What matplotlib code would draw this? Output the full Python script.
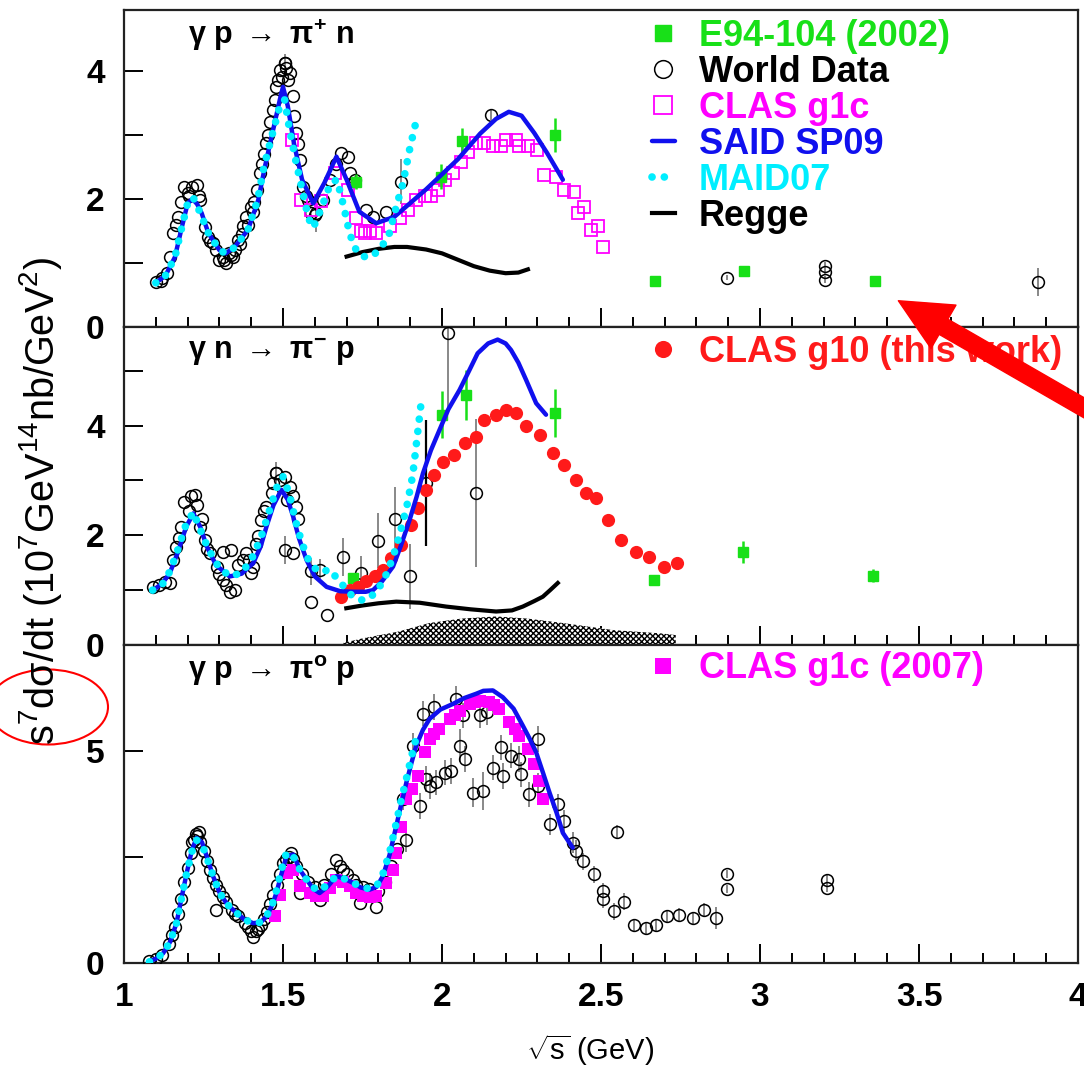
import matplotlib.pyplot as plt
from matplotlib.patches import Ellipse, ConnectionPatch
from matplotlib.ticker import MultipleLocator

plt.rcParams['font.family'] = ['Liberation Sans', 'DejaVu Sans']
plt.rcParams['mathtext.fontset'] = 'custom'
plt.rcParams['mathtext.rm'] = 'Liberation Sans'
plt.rcParams['mathtext.it'] = 'Liberation Sans:italic'
plt.rcParams['mathtext.bf'] = 'Liberation Sans:bold'
plt.rcParams['mathtext.default'] = 'regular'
plt.rcParams['hatch.linewidth'] = 1.0

GREEN = '#18e018'
MAGENTA = '#ff00ff'
BLUE = '#1010ee'
CYAN = '#00eeff'
RED = '#ff1a1a'

# ---------------- gamma p -> pi+ n ----------------
said_top_x = [1.10, 1.13, 1.16, 1.18, 1.20, 1.215, 1.23, 1.244, 1.265, 1.30, 1.32, 1.348, 1.39,
              1.422, 1.443, 1.469, 1.49, 1.50, 1.515, 1.535, 1.56, 1.595, 1.63, 1.668, 1.70,
              1.74, 1.793, 1.85, 1.95, 2.05, 2.12, 2.17, 2.21, 2.25, 2.29, 2.33, 2.38]
said_top_y = [0.69, 0.80, 1.09, 1.52, 1.93, 2.00, 1.92, 1.78, 1.47, 1.20, 1.15, 1.25, 1.52,
              1.98, 2.50, 3.08, 3.55, 3.75, 3.45, 2.85, 2.30, 1.93, 2.25, 2.66, 2.30,
              1.80, 1.62, 1.72, 2.15, 2.62, 3.02, 3.25, 3.36, 3.30, 3.03, 2.72, 2.30]

maid_top_x = [1.10, 1.13, 1.16, 1.18, 1.20, 1.217, 1.24, 1.265, 1.30, 1.32, 1.35, 1.39, 1.42,
              1.44, 1.47, 1.49, 1.505, 1.52, 1.54, 1.56, 1.58, 1.595, 1.62, 1.65, 1.67, 1.69,
              1.71, 1.73, 1.75, 1.78, 1.81, 1.835, 1.856, 1.877, 1.898, 1.923]
maid_top_y = [0.69, 0.80, 1.09, 1.52, 1.93, 2.03, 1.78, 1.47, 1.20, 1.15, 1.25, 1.52, 1.98,
              2.50, 3.08, 3.45, 3.55, 3.10, 2.60, 2.15, 1.70, 1.55, 1.85, 2.25, 2.30, 1.90,
              1.45, 1.20, 1.10, 1.10, 1.25, 1.47, 1.88, 2.24, 2.77, 3.31]

regge_top_x = [1.70, 1.75, 1.80, 1.85, 1.89, 1.95, 2.00, 2.05, 2.10, 2.15, 2.20, 2.24, 2.27]
regge_top_y = [1.10, 1.17, 1.22, 1.25, 1.25, 1.21, 1.15, 1.05, 0.95, 0.88, 0.84, 0.85, 0.90]

world_top_x = [1.10, 1.12, 1.134, 1.145, 1.155, 1.165, 1.17, 1.18, 1.19, 1.20, 1.213, 1.228,
               1.24, 1.254, 1.265, 1.28, 1.29, 1.30, 1.31, 1.322, 1.33, 1.343, 1.35, 1.359,
               1.365, 1.375, 1.385, 1.39, 1.40, 1.41, 1.417, 1.427, 1.435, 1.448, 1.453, 1.46,
               1.469, 1.479, 1.485, 1.49, 1.497, 1.505, 1.51, 1.521, 1.532, 1.536, 1.542,
               1.553, 1.563, 1.579, 1.589, 1.626, 1.647, 1.668, 1.683, 1.704, 1.71, 1.725,
               1.762, 1.783, 1.825, 1.115, 1.205, 1.235, 1.27, 1.315, 1.338, 1.37, 1.405,
               1.44, 1.475, 1.515, 1.547, 1.572, 1.60]
world_top_y = [0.70, 0.76, 0.84, 1.10, 1.47, 1.60, 1.72, 1.95, 2.19, 2.10, 2.19, 2.22,
               1.98, 1.56, 1.41, 1.31, 1.20, 1.05, 1.10, 1.00, 1.15, 1.10, 1.20, 1.36,
               1.30, 1.57, 1.72, 1.60, 1.88, 1.95, 2.14, 2.40, 2.55, 2.87, 3.00, 3.20,
               3.39, 3.75, 3.85, 4.02, 3.90, 4.12, 4.05, 3.96, 3.60, 3.30, 3.03,
               2.61, 2.19, 1.98, 1.78, 1.98, 2.30, 2.55, 2.71, 2.66, 2.40, 2.30,
               1.83, 1.72, 1.80, 0.72, 2.05, 2.05, 1.35, 1.05, 1.12, 1.45, 1.80,
               2.70, 3.55, 3.85, 2.85, 2.05, 1.75]
# sparse world points with visible error bars
world_top_ex = [1.505, 1.605, 1.872, 2.155, 2.896, 3.205, 3.205, 3.205, 3.874]
world_top_ey = [4.12, 1.78, 2.27, 3.31, 0.77, 0.74, 0.86, 0.96, 0.70]
world_top_ee = [0.15, 0.30, 0.35, 0.08, 0.04, 0.05, 0.05, 0.05, 0.22]

g1c_top_x = [1.527, 1.558, 1.589, 1.621, 1.662, 1.704, 1.730, 1.745, 1.757, 1.775, 1.793, 1.835,
             1.867, 1.893, 1.919, 1.945, 1.966, 1.987, 2.008, 2.034, 2.060, 2.081, 2.107,
             2.133, 2.160, 2.186, 2.201, 2.233, 2.243, 2.270, 2.300, 2.322, 2.358, 2.385,
             2.416, 2.427, 2.448, 2.468, 2.489, 2.505]
g1c_top_y = [2.92, 1.98, 1.83, 1.96, 2.40, 2.14, 1.70, 1.50, 1.47, 1.50, 1.47, 1.57,
             1.70, 1.83, 1.98, 2.04, 2.04, 2.14, 2.30, 2.40, 2.58, 2.74, 2.87,
             2.87, 2.82, 2.82, 2.92, 2.92, 2.82, 2.82, 2.77, 2.38, 2.35, 2.14,
             2.11, 1.78, 1.88, 1.52, 1.57, 1.25]

e94_top_x = [1.730, 1.998, 2.063, 2.355, 2.669, 2.949, 3.363]
e94_top_y = [2.27, 2.35, 2.90, 3.00, 0.72, 0.875, 0.72]
e94_top_e = [0.12, 0.20, 0.21, 0.26, 0.03, 0.04, 0.03]

# ---------------- gamma n -> pi- p ----------------
said_mid_x = [1.092, 1.12, 1.144, 1.17, 1.195, 1.218, 1.24, 1.26, 1.29, 1.333, 1.37, 1.406,
              1.43, 1.448, 1.47, 1.495, 1.515, 1.532, 1.55, 1.574, 1.60, 1.637, 1.68, 1.72,
              1.76, 1.783, 1.81, 1.846, 1.87, 1.898, 1.92, 1.94, 1.965, 1.992, 2.02, 2.055,
              2.085, 2.112, 2.145, 2.175, 2.20, 2.217, 2.24, 2.264, 2.296, 2.327]
said_mid_y = [1.00, 1.12, 1.31, 1.70, 2.15, 2.40, 2.15, 1.80, 1.45, 1.25, 1.30, 1.49,
              1.80, 2.16, 2.55, 2.83, 2.65, 2.34, 1.95, 1.55, 1.25, 1.06, 0.98, 0.97,
              0.97, 1.00, 1.15, 1.43, 1.80, 2.28, 2.70, 3.13, 3.55, 3.92, 4.30, 4.65,
              5.00, 5.32, 5.50, 5.57, 5.50, 5.38, 5.15, 4.84, 4.41, 4.20]

maid_mid_x = [1.09, 1.12, 1.145, 1.17, 1.195, 1.218, 1.24, 1.265, 1.30, 1.335, 1.37, 1.40,
              1.43, 1.46, 1.485, 1.50, 1.52, 1.54, 1.56, 1.58, 1.60, 1.62, 1.645, 1.68,
              1.70, 1.72, 1.745, 1.765, 1.79, 1.81, 1.83, 1.856, 1.875, 1.89, 1.908, 1.92, 1.935]
maid_mid_y = [1.00, 1.10, 1.35, 1.75, 2.20, 2.42, 2.10, 1.75, 1.40, 1.25, 1.32, 1.55,
              1.95, 2.50, 2.95, 3.07, 2.75, 2.25, 1.85, 1.55, 1.40, 1.32, 1.38, 1.15,
              1.00, 0.88, 0.82, 0.83, 0.95, 1.12, 1.35, 1.79, 2.20, 2.55, 3.10, 3.70, 4.45]

regge_mid_x = [1.699, 1.75, 1.80, 1.856, 1.93, 2.013, 2.09, 2.17, 2.22, 2.254, 2.29, 2.317,
               2.34, 2.364]
regge_mid_y = [0.67, 0.72, 0.76, 0.79, 0.77, 0.70, 0.65, 0.61, 0.63, 0.70, 0.80, 0.88,
               1.00, 1.13]

band_mid_x = [1.69, 1.75, 1.86, 1.96, 2.06, 2.17, 2.27, 2.38, 2.54, 2.69, 2.735]
band_mid_y = [0.04, 0.12, 0.24, 0.40, 0.48, 0.52, 0.48, 0.40, 0.27, 0.21, 0.18]

g10_x = [1.683, 1.71, 1.736, 1.762, 1.788, 1.814, 1.841, 1.872, 1.903, 1.924, 1.95, 1.976,
         2.003, 2.039, 2.071, 2.107, 2.133, 2.17, 2.201, 2.233, 2.264, 2.307, 2.35, 2.385,
         2.421, 2.453, 2.484, 2.521, 2.562, 2.61, 2.651, 2.699, 2.74]
g10_y = [0.88, 1.00, 1.06, 1.16, 1.25, 1.37, 1.58, 1.82, 2.19, 2.49, 2.83, 3.10,
         3.34, 3.47, 3.68, 3.80, 4.11, 4.20, 4.29, 4.23, 4.00, 3.83, 3.51, 3.28,
         3.01, 2.78, 2.68, 2.28, 1.92, 1.70, 1.61, 1.43, 1.49]

world_mid_x = [1.092, 1.11, 1.144, 1.155, 1.165, 1.18, 1.19, 1.212, 1.223, 1.228, 1.238,
               1.254, 1.27, 1.291, 1.312, 1.333, 1.348, 1.338, 1.312, 1.375, 1.385, 1.40,
               1.406, 1.422, 1.432, 1.448, 1.464, 1.479, 1.49, 1.505, 1.521, 1.532, 1.542,
               1.547, 1.532, 1.589, 1.637, 1.13, 1.172, 1.205, 1.245, 1.262, 1.30, 1.322,
               1.36, 1.392, 1.415, 1.44, 1.47, 1.512]
world_mid_y = [1.06, 1.10, 1.13, 1.55, 1.79, 2.16, 2.61, 2.71, 2.74, 2.55, 2.16,
               1.92, 1.67, 1.43, 1.19, 0.97, 1.00, 1.73, 1.70, 1.55, 1.67, 1.31,
               1.43, 1.98, 2.28, 2.52, 2.77, 3.13, 3.00, 3.07, 2.89, 2.71, 2.52,
               2.30, 1.67, 0.79, 0.55, 1.15, 1.95, 2.45, 2.30, 1.75, 1.30, 1.10,
               1.45, 1.55, 1.85, 2.45, 2.95, 2.65]
world_mid_ex = [1.479, 1.505, 1.589, 1.615, 1.69, 1.746, 1.799, 1.851, 1.898, 2.018, 2.107]
world_mid_ey = [3.13, 1.73, 1.34, 1.37, 1.60, 1.32, 1.90, 2.29, 1.25, 5.69, 2.77]
world_mid_ee = [0.20, 0.25, 0.25, 0.20, 0.35, 0.30, 0.50, 0.60, 0.60, 1.40, 1.35]
# the one point drawn with a dark error bar
world_mid_bx = [1.95]
world_mid_by = [2.95]
world_mid_be = [1.15]

e94_mid_x = [1.72, 2.00, 2.076, 2.356, 2.667, 2.947, 3.355]
e94_mid_y = [1.22, 4.20, 4.56, 4.23, 1.19, 1.70, 1.26]
e94_mid_e = [0.08, 0.43, 0.45, 0.44, 0.05, 0.20, 0.12]

# ---------------- gamma p -> pi0 p ----------------
said_bot_x = [1.076, 1.10, 1.123, 1.145, 1.165, 1.18, 1.197, 1.213, 1.228, 1.245, 1.26, 1.28,
              1.301, 1.325, 1.354, 1.38, 1.406, 1.43, 1.448, 1.465, 1.479, 1.495, 1.511,
              1.532, 1.553, 1.574, 1.595, 1.615, 1.64, 1.668, 1.695, 1.72, 1.745, 1.772,
              1.795, 1.814, 1.835, 1.856, 1.872, 1.888, 1.905, 1.919, 1.94, 1.961, 1.995,
              2.034, 2.07, 2.107, 2.13, 2.16, 2.191, 2.225, 2.254, 2.275, 2.296, 2.317,
              2.338, 2.36, 2.38, 2.411]
said_bot_y = [0.03, 0.10, 0.23, 0.50, 0.94, 1.50, 2.12, 2.65, 2.95, 2.85, 2.52, 2.05,
              1.65, 1.38, 1.18, 1.02, 0.94, 0.96, 1.10, 1.35, 1.65, 2.10, 2.52,
              2.56, 2.20, 1.97, 1.75, 1.65, 1.80, 2.05, 1.98, 1.89, 1.78, 1.73,
              1.80, 2.05, 2.55, 3.23, 3.75, 4.26, 4.75, 5.13, 5.50, 5.76, 5.98,
              6.11, 6.25, 6.35, 6.42, 6.43, 6.27, 6.00, 5.60, 5.30, 4.97, 4.50,
              4.02, 3.55, 3.07, 2.72]

maid_bot_x = [1.08, 1.10, 1.123, 1.145, 1.165, 1.18, 1.197, 1.213, 1.228, 1.245, 1.26, 1.28,
              1.301, 1.325, 1.354, 1.38, 1.406, 1.43, 1.448, 1.465, 1.479, 1.495, 1.511,
              1.53, 1.553, 1.574, 1.595, 1.615, 1.64, 1.668, 1.695, 1.72, 1.745, 1.772,
              1.795, 1.814, 1.835, 1.856, 1.872, 1.888, 1.905, 1.925]
maid_bot_y = [0.03, 0.10, 0.23, 0.50, 0.94, 1.50, 2.12, 2.62, 2.90, 2.80, 2.50, 2.05,
              1.65, 1.38, 1.18, 1.02, 0.94, 0.96, 1.10, 1.35, 1.70, 2.20, 2.60,
              2.55, 2.20, 1.97, 1.78, 1.70, 1.85, 2.05, 1.98, 1.89, 1.80, 1.75,
              1.82, 2.10, 2.60, 3.30, 3.85, 4.35, 4.90, 5.50]

g1c07_x = [1.474, 1.49, 1.511, 1.53, 1.553, 1.584, 1.626, 1.668, 1.71, 1.751, 1.793, 1.825,
           1.845, 1.856, 1.872, 1.888, 1.905, 1.924, 1.945, 1.961, 1.992, 2.024, 2.055,
           2.087, 2.118, 2.149, 2.18, 2.212, 2.243, 2.27, 2.29, 2.317, 1.605, 1.647, 1.69,
           1.73, 1.772, 1.976, 2.04, 2.103, 2.165, 2.228, 2.305]
g1c07_y = [1.10, 1.60, 2.12, 2.20, 1.81, 1.65, 1.57, 1.97, 1.81, 1.57, 1.57, 1.89,
           2.20, 2.60, 3.20, 3.86, 4.10, 4.41, 4.97, 5.28, 5.52, 5.76, 5.95,
           6.11, 6.19, 6.15, 6.00, 5.68, 5.36, 5.05, 4.69, 3.86, 1.58, 1.78, 1.92,
           1.66, 1.55, 5.40, 5.86, 6.16, 6.09, 5.52, 4.30]

world_bot_x = [1.08, 1.10, 1.12, 1.14, 1.15, 1.16, 1.17, 1.18, 1.19, 1.20, 1.21, 1.22, 1.225,
               1.23, 1.24, 1.25, 1.26, 1.27, 1.28, 1.29, 1.29, 1.30, 1.32, 1.34, 1.36, 1.38,
               1.39, 1.40, 1.406, 1.42, 1.43, 1.44, 1.45, 1.46, 1.47, 1.48, 1.49, 1.50, 1.51,
               1.52, 1.53, 1.54, 1.553, 1.56, 1.58, 1.60, 1.615, 1.63, 1.65, 1.668, 1.68,
               1.70, 1.72, 1.741, 1.75, 1.77, 1.793, 1.80, 1.82, 1.84, 1.86, 1.215, 1.235,
               1.31, 1.35, 1.415, 1.525, 1.69, 1.73]
world_bot_y = [0.05, 0.10, 0.20, 0.45, 0.65, 0.85, 1.15, 1.50, 1.90, 2.25, 2.60, 2.90, 3.05,
               3.00, 2.85, 2.65, 2.40, 2.20, 2.00, 1.26, 1.85, 1.70, 1.45, 1.25, 1.10, 0.95,
               0.85, 0.75, 0.62, 0.80, 0.90, 1.05, 1.20, 1.40, 1.60, 1.85, 2.10, 2.35, 2.45,
               2.50, 2.45, 2.30, 1.65, 2.10, 1.90, 1.80, 1.49, 1.85, 2.10, 2.44, 2.30,
               2.10, 1.95, 1.41, 1.80, 1.75, 1.33, 1.70, 1.90, 2.30, 2.70, 2.85, 3.10,
               1.55, 1.15, 0.75, 2.60, 2.20, 1.85]
world_bot_ex = [1.877, 1.888, 1.908, 1.93, 1.94, 1.95, 1.961, 1.976, 1.982, 2.008, 2.029,
                2.045, 2.055, 2.065, 2.071, 2.097, 2.12, 2.128, 2.14, 2.16, 2.186, 2.191,
                2.217, 2.243, 2.248, 2.275, 2.301, 2.301, 2.338, 2.364, 2.385, 2.411, 2.42,
                2.442, 2.479, 2.505, 2.505, 2.542, 2.55, 2.573, 2.604, 2.641, 2.672, 2.709,
                2.746, 2.788, 2.824, 2.861, 2.895, 2.895, 3.21, 3.21]
world_bot_ey = [3.86, 2.91, 5.13, 3.70, 5.88, 4.34, 4.18, 6.04, 4.26, 4.49, 4.53,
                6.23, 5.13, 5.84, 4.81, 4.02, 5.84, 4.06, 5.92, 4.61, 5.09, 4.41,
                4.89, 4.81, 4.45, 3.98, 5.28, 4.18, 3.27, 3.74, 3.35, 2.84, 2.65,
                2.40, 2.09, 1.69, 1.50, 1.22, 3.10, 1.45, 0.90, 0.82, 0.90, 1.10,
                1.14, 1.06, 1.26, 1.06, 2.10, 1.75, 1.97, 1.78]
world_bot_ee = [0.25, 0.30, 0.30, 0.30, 0.30, 0.30, 0.30, 0.30, 0.30, 0.30, 0.30,
                0.30, 0.40, 0.30, 0.30, 0.35, 0.30, 0.45, 0.30, 0.30, 0.30, 0.30,
                0.30, 0.30, 0.30, 0.30, 0.30, 0.30, 0.25, 0.25, 0.25, 0.25, 0.25,
                0.20, 0.20, 0.20, 0.20, 0.20, 0.15, 0.20, 0.15, 0.15, 0.15, 0.15,
                0.15, 0.15, 0.15, 0.25, 0.10, 0.10, 0.10, 0.10]

x_ticks = [1, 1.5, 2, 2.5, 3, 3.5, 4]
x_ticklabels = ['1', '1.5', '2', '2.5', '3', '3.5', '4']


def style_axis(ax, ymax, yticks, ylabels, show_x):
    ax.set_xlim(1, 4)
    ax.set_ylim(0, ymax)
    ax.set_yticks(yticks, ylabels)
    ax.set_xticks(x_ticks, x_ticklabels if show_x else [])
    ax.xaxis.set_minor_locator(MultipleLocator(0.1))
    ax.tick_params(axis='both', which='major', direction='in', length=14, width=1.4,
                   labelsize=24, pad=14, top=False, right=False)
    ax.tick_params(axis='x', which='minor', direction='in', length=7, width=1.4,
                   top=False)
    for lab in ax.get_xticklabels() + ax.get_yticklabels():
        lab.set_fontweight('bold')
    for s in ax.spines.values():
        s.set_linewidth(1.6)
        s.set_color('#222222')


def plot_world(ax, x, y, ex, ey, ee):
    ax.vlines(ex, [a - b for a, b in zip(ey, ee)], [a + b for a, b in zip(ey, ee)],
              colors='#888888', linewidth=1.4, zorder=2)
    h, = ax.plot(list(x) + list(ex), list(y) + list(ey), 'o', mfc='none', mec='black',
                 ms=8.5, mew=1.1, zorder=3)
    return h


def plot_models(ax, sx, sy, mx, my):
    hs, = ax.plot(sx, sy, '-', color=BLUE, lw=3.2, zorder=6, solid_capstyle='round')
    hm, = ax.plot(mx, my, color=CYAN, lw=5.5, linestyle=(0, (0.01, 1.6)),
                  dash_capstyle='round', zorder=7)
    return hs, hm


def panel_title(ax, txt):
    ax.text(0.067, 0.92, txt, transform=ax.transAxes, fontsize=22, fontweight='bold',
            ha='left', va='center')


fig = plt.figure(figsize=(10.84, 10.76), dpi=100)
ax_top = fig.add_axes([0.1144, 0.6961, 0.8801, 0.2946])
ax_mid = fig.add_axes([0.1144, 0.4006, 0.8801, 0.2955])
ax_bot = fig.add_axes([0.1144, 0.1050, 0.8801, 0.2955])

legend_kw = dict(loc='upper left', frameon=False, prop={'weight': 'bold', 'size': 26},
                 handlelength=0.65, handletextpad=0.65, borderpad=0, borderaxespad=0)

# top panel
h_regge, = ax_top.plot(regge_top_x, regge_top_y, '-', color='black', lw=3, zorder=4)
h_world = plot_world(ax_top, world_top_x, world_top_y, world_top_ex, world_top_ey,
                     world_top_ee)
h_g1c, = ax_top.plot(g1c_top_x, g1c_top_y, 's', mfc='none', mec=MAGENTA, ms=9, mew=1.3,
                     zorder=4)
ax_top.vlines(e94_top_x, [a - b for a, b in zip(e94_top_y, e94_top_e)],
              [a + b for a, b in zip(e94_top_y, e94_top_e)], colors=GREEN, lw=1.8, zorder=5)
h_e94, = ax_top.plot(e94_top_x, e94_top_y, 's', color=GREEN, ms=7.5, zorder=5)
h_said, h_maid = plot_models(ax_top, said_top_x, said_top_y, maid_top_x, maid_top_y)
style_axis(ax_top, 4.95, [0, 1, 2, 3, 4], ['0', '', '2', '', '4'], False)
panel_title(ax_top, r'$\gamma$ p $\rightarrow$ $\pi^{+}$ n')
ax_top.legend([h_e94, h_world, h_g1c, h_said, h_maid, h_regge],
              ['E94-104 (2002)', 'World Data', 'CLAS g1c', 'SAID SP09', 'MAID07', 'Regge'],
              bbox_to_anchor=(0.553, 0.973), labelspacing=0.03, markerscale=1.5,
              labelcolor=[GREEN, 'black', MAGENTA, BLUE, CYAN, 'black'], **legend_kw)

# middle panel
ax_mid.fill_between(band_mid_x, 0, band_mid_y, facecolor='white', edgecolor='black',
                    hatch='xxxxxx', linewidth=0, zorder=2)
ax_mid.plot(regge_mid_x, regge_mid_y, '-', color='black', lw=3, zorder=4)
plot_world(ax_mid, world_mid_x, world_mid_y, world_mid_ex, world_mid_ey, world_mid_ee)
ax_mid.vlines(world_mid_bx, [a - b for a, b in zip(world_mid_by, world_mid_be)],
              [a + b for a, b in zip(world_mid_by, world_mid_be)], colors='black', lw=1.6,
              zorder=2)
ax_mid.plot(world_mid_bx, world_mid_by, 'o', mfc='none', mec='black', ms=8.5, mew=1.1,
            zorder=3)
ax_mid.vlines(e94_mid_x, [a - b for a, b in zip(e94_mid_y, e94_mid_e)],
              [a + b for a, b in zip(e94_mid_y, e94_mid_e)], colors=GREEN, lw=1.8, zorder=5)
ax_mid.plot(e94_mid_x, e94_mid_y, 's', color=GREEN, ms=7.5, zorder=5)
h_g10, = ax_mid.plot(g10_x, g10_y, 'o', color=RED, ms=9.5, mew=0, zorder=5)
plot_models(ax_mid, said_mid_x, said_mid_y, maid_mid_x, maid_mid_y)
style_axis(ax_mid, 5.8, [0, 1, 2, 3, 4, 5], ['0', '', '2', '', '4', ''], False)
panel_title(ax_mid, r'$\gamma$ n $\rightarrow$ $\pi^{-}$ p')
ax_mid.legend([h_g10], ['CLAS g10 (this work)'], bbox_to_anchor=(0.553, 0.975),
              markerscale=1.3, labelcolor=[RED], **legend_kw)

# bottom panel
plot_world(ax_bot, world_bot_x, world_bot_y, world_bot_ex, world_bot_ey, world_bot_ee)
h_g1c07, = ax_bot.plot(g1c07_x, g1c07_y, 's', color=MAGENTA, ms=8, mew=0, zorder=4)
plot_models(ax_bot, said_bot_x, said_bot_y, maid_bot_x, maid_bot_y)
style_axis(ax_bot, 7.5, [0, 2.5, 5, 7.5], ['0', '', '5', ''], True)
panel_title(ax_bot, r'$\gamma$ p $\rightarrow$ $\pi^{o}$ p')
ax_bot.legend([h_g1c07], ['CLAS g1c (2007)'], bbox_to_anchor=(0.553, 0.98),
              markerscale=1.5, labelcolor=[MAGENTA], **legend_kw)

fig.text(0.544, 0.024, r'$\sqrt{s}$ (GeV)', fontsize=21, ha='center', va='center')
fig.text(0.037, 0.534, r's$^{7}$d$\sigma$/dt (10$^{7}$GeV$^{14}$nb/GeV$^{2}$)',
         fontsize=28.5, rotation=90, ha='center', va='center')

# red annotations
fig.add_artist(Ellipse((48 / 1084, 1 - 707 / 1076), 120 / 1084, 75 / 1076,
                       transform=fig.transFigure, fill=False, edgecolor='red', lw=1.5))
arrow = ConnectionPatch(xyA=(1.03, -0.296), coordsA=ax_top.transAxes,
                        xyB=(3.435, 0.41), coordsB=ax_top.transData,
                        arrowstyle='simple,head_length=1.25,head_width=1.2,tail_width=0.42',
                        mutation_scale=30, color='red', zorder=20)
fig.add_artist(arrow)

fig.savefig('out.png', dpi=100)
